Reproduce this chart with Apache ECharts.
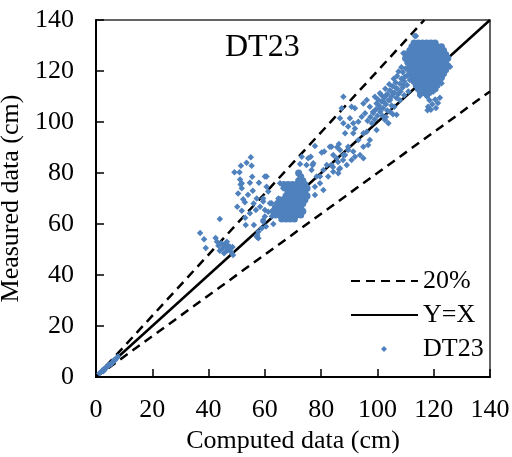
<!DOCTYPE html>
<html>
<head>
<meta charset="utf-8">
<script src="https://cdn.jsdelivr.net/npm/echarts@6/dist/echarts.min.js"></script>
<style>html,body{margin:0;padding:0;background:#fff}#c{width:512px;height:457px}</style>
</head>
<body>
<div id="c"></div>
<script>
// Axis ticks
const axisMin = 0, axisMax = 140, axisStep = 20;

// Reference lines (endpoints)
const lineYeqX = [[0, 0], [140, 140]];
const lineUpper20 = [[0, 0], [116.67, 140]];
const lineLower20 = [[0, 0], [140, 112]];

// DT23 measured vs computed points
const originPts = [[1.2,1.5],[1.8,2],[2.3,2.6],[2.8,3],[3.2,3.3],[3.7,3.9],[4.2,4.3],[4.7,4.6],[5.2,5.1],[5.7,5.6],[6.2,6.2],[6.8,6.7],[7.3,7.4],[7.8,8],[2.6,2.3],[3.5,3.6],[4.5,4.8],[5.5,5.2],[6.5,6.8],[3,2.7]];

const lowPts = [[37,56.5],[38.4,54],[39,50.6],[44,62],[43,53],[43.5,51.5],[44.5,52.5],[45,50.5],[45.5,52],[46,51],[46.5,49.5],[47,51.5],[47.5,50.5],[48,49],[48.5,51],[44,49.5],[45.5,48.5],[48.7,47.8],[42.5,54.5],[46.5,53],[47.6,51.1]];

const midScatter = [[55,86.2],[53.5,84],[55.3,82.8],[51.5,82.8],[49.2,80.3],[51,80.3],[51.2,77.5],[51.8,76],[54.7,76.2],[57.9,76.2],[51.8,74],[55.7,73],[61.2,72.7],[52.3,69.7],[52.9,68.5],[57.1,70],[59.4,68.8],[50.2,66.8],[51.8,65.2],[54.7,64.2],[56.8,65.5],[58.3,66.8],[60,65.5],[53.2,59.6],[56.1,59.6],[57.3,55.7],[57.7,54.4],[59.4,61.6],[60.4,59],[60.6,78.6],[65.4,76],[66.5,74],[64.8,70],[62.4,68.1],[60,78.6],[60.6,74.6],[59.4,70],[61.8,68.1],[61.2,64.8],[60,62.9],[59.4,60.9],[58.9,58.3],[57.1,55],[57.7,57],[54,71.5],[56,68],[53,62.5],[62.5,63],[63,60],[55.5,78.5],[50.5,72],[51.4,75.5]];

const midBlob = [[72,80],[72.75,78.5],[72,77],[73.5,77],
[66.75,75.5],[68.25,75.5],[69.75,75.5],[71.25,75.5],[72.75,75.5],[74.25,75.5],
[67.5,74],[69,74],[70.5,74],[72,74],[73.5,74],[75,74],
[68.25,72.5],[69.75,72.5],[71.25,72.5],[72.75,72.5],[74.25,72.5],
[67.5,71],[69,71],[70.5,71],[72,71],[73.5,71],[75,71],
[65.25,69.5],[66.75,69.5],[68.25,69.5],[69.75,69.5],[71.25,69.5],[72.75,69.5],[74.25,69.5],
[64.5,68],[66,68],[67.5,68],[69,68],[70.5,68],[72,68],[73.5,68],
[63.75,66.5],[65.25,66.5],[66.75,66.5],[68.25,66.5],[69.75,66.5],[71.25,66.5],[72.75,66.5],
[63,65],[64.5,65],[66,65],[67.5,65],[69,65],[70.5,65],[72,65],[73.5,65],
[63.75,63.5],[65.25,63.5],[66.75,63.5],[68.25,63.5],[69.75,63.5],[71.25,63.5],[72.75,63.5],
[66,62],[67.5,62],[69,62],[70.5,62]];

const upperScatter = [[77.8,90.6],[85.7,90.1],[81.1,88.4],[73.1,86.4],[74.8,83.1],[77,83.1],[76.3,86.4],[82,83.1],[84.3,80.5],[86.4,81.5],[78.4,78.6],[72.2,79.9],[77.8,71.4],[83.1,90.3],[86.3,91.4],[80.2,88],[87.9,87.1],[89.6,89],[75.4,85.8],[77.2,83.8],[72.5,83.5],[76.6,81.2],[80.8,81.2],[83.7,83.1],[86.7,81.9],[86.1,79.9],[79.6,78.6],[82.5,78.6],[79.6,76],[77.8,74.6],[80.8,73.3],
[87.9,109.9],[87.3,105.4],[90.8,106],[92,105.4],[86.7,101.5],[90.2,101.5],[87.9,99.5],[91.4,99.5],[89.6,98.2],[92,97.5],[93.2,100.1],[88.5,95.6],[91.4,95.6],[95,95.6],[93.2,92.9],[97.3,92.9],[96.2,96.2],[95,90.3],[96.7,91],[89.6,90.3],[86.7,89],[88.5,87.1],[91.4,88.4],[85.5,85.8],[83.7,90.3],[84.3,87.1],[94.4,102.1],[95.6,103.4],[95,107.3],[96.2,108.6],[97.3,106],[98.5,104],[84.2,82.4],[86,84.3],[87.8,85.1],[89.1,83.1],[90.8,85.1],[92,86.4],[93.8,87.1],[95,85.8]];

const extPts = [[99.7,107.3],[100.9,105.4],[102.1,108],[103.3,110.6],[100.9,111.3],[99.1,109.9],[104.5,108.6],[105.6,111.3],[106.8,113.2],[109.2,114.5],[102.7,100.8],[103.9,99.5],[106.8,102.8],[99.7,96.9],
[110,121],[109,119.5],[110.5,118],[108.5,117],[107,118],[109.5,116],[108,115],[106.5,115.5],[105.5,114],[107,113],[109,113.5],[110.5,114.5],[104.5,112.5],[106,111.5],[103.5,111],[105,110],[107.5,111],[102.5,109.5],[104,108.5],[101.5,108],[103,107],[100.5,106.5],[102,105.5],[99.5,105],[101,104],[98.5,103.5],[100,102.5],[97.5,102],[99,101],[104.5,104],[106,106],[108,108.5],[109.5,110.5],[111,112],[103,102],[105.5,103],[98,99.5],[96.5,100.5],[111.5,116.5],[112,119.5],[113.7,133.7],[109.2,127],
[108.5,121.5],[107.5,119.8],[105.8,117],[104.2,114.8],[102.8,113],[101.5,110.5],[100.2,108.8],[108.2,112],[106.7,109.5],[105,106.5],[103.5,104.5],[101.8,102.5],[109.8,117.8],[111.2,120]];

const topBlob = [[113,131],[114.5,131],[116,131],[117.5,131],[119,131],[120.5,131],
[112.25,129.5],[113.75,129.5],[115.25,129.5],[116.75,129.5],[118.25,129.5],[119.75,129.5],[121.25,129.5],[122.75,129.5],
[111.5,128],[113,128],[114.5,128],[116,128],[117.5,128],[119,128],[120.5,128],[122,128],[123.5,128],
[110.75,126.5],[112.25,126.5],[113.75,126.5],[115.25,126.5],[116.75,126.5],[118.25,126.5],[119.75,126.5],[121.25,126.5],[122.75,126.5],[124.25,126.5],
[110,125],[111.5,125],[113,125],[114.5,125],[116,125],[117.5,125],[119,125],[120.5,125],[122,125],[123.5,125],[125,125],
[110.75,123.5],[112.25,123.5],[113.75,123.5],[115.25,123.5],[116.75,123.5],[118.25,123.5],[119.75,123.5],[121.25,123.5],[122.75,123.5],[124.25,123.5],
[111.5,122],[113,122],[114.5,122],[116,122],[117.5,122],[119,122],[120.5,122],[122,122],[123.5,122],[125,122],
[112.25,120.5],[113.75,120.5],[115.25,120.5],[116.75,120.5],[118.25,120.5],[119.75,120.5],[121.25,120.5],[122.75,120.5],[124.25,120.5],
[111.5,119],[113,119],[114.5,119],[116,119],[117.5,119],[119,119],[120.5,119],[122,119],[123.5,119],
[112.25,117.5],[113.75,117.5],[115.25,117.5],[116.75,117.5],[118.25,117.5],[119.75,117.5],[121.25,117.5],[122.75,117.5],
[113,116],[114.5,116],[116,116],[117.5,116],[119,116],[120.5,116],[122,116],
[113.75,114.5],[115.25,114.5],[116.75,114.5],[118.25,114.5],[119.75,114.5],[121.25,114.5],
[114.5,113],[116,113],[117.5,113],[119,113],[120.5,113],
[115.25,111.5],[116.75,111.5],[118.25,111.5]];

const topOutliers = [[113.3,133.7],[109.8,127],[125.8,121.7],[122.8,115.2],[115.1,110.3],[119.8,111.9]];

const belowPts = [[117.6,110],[118.5,108.5],[119.5,107],[120.5,108.8],[121.5,107.5],[118,106],[119,104.8],[120.8,105.5],[122.2,109.5],[117.8,104.6]];

const scatterPts = [].concat(originPts, lowPts, midScatter, upperScatter, extPts, topOutliers, belowPts);
const densePts = [].concat(midBlob, topBlob);

const FONT = "'Times New Roman', 'Liberation Serif', serif";
const BLUE = '#4F81BD';
const chart = echarts.init(document.getElementById('c'));

function axis(name, gap, labelMargin) {
  return {
    type: 'value', min: axisMin, max: axisMax, interval: axisStep,
    name: name, nameLocation: 'middle', nameGap: gap,
    nameTextStyle: { fontFamily: FONT, fontSize: 26, color: '#000' },
    axisLine: { show: true, onZero: false, lineStyle: { color: '#000', width: 2 } },
    axisTick: { show: true, inside: true, length: 8, lineStyle: { color: '#000', width: 1.5 } },
    axisLabel: { fontFamily: FONT, fontSize: 26, color: '#000', margin: labelMargin },
    splitLine: { show: false }
  };
}

chart.setOption({
  animation: false,
  backgroundColor: '#fff',
  title: {
    text: 'DT23', left: 220, top: 27,
    textStyle: { fontFamily: FONT, fontSize: 32, fontWeight: 'normal', color: '#000' }
  },
  grid: { left: 96, right: 22, top: 20, bottom: 80, show: true, borderColor: '#333', borderWidth: 1.5,
          containLabel: false, outerBoundsMode: 'none' },
  xAxis: axis('Computed data (cm)', 45, 20),
  yAxis: axis('Measured data (cm)', 52, 22),
  legend: [{
    orient: 'vertical', left: 345, top: 263,
    itemWidth: 67, itemHeight: 8, itemGap: 8,
    textStyle: { fontFamily: FONT, fontSize: 26, color: '#000' },
    data: ['20%', 'Y=X']
  }, {
    orient: 'vertical', left: 376, top: 331,
    itemWidth: 6, itemHeight: 6,
    textStyle: { fontFamily: FONT, fontSize: 26, color: '#000', padding: [0, 0, 0, 31] },
    data: ['DT23']
  }],
  series: [
    { name: '20%', type: 'line', data: lineUpper20, symbol: 'none', silent: true,
      lineStyle: { color: '#000', width: 2.5, type: [9, 6] }, itemStyle: { color: 'rgba(0,0,0,0)' } },
    { name: '20%', type: 'line', data: lineLower20, symbol: 'none', silent: true,
      lineStyle: { color: '#000', width: 2.5, type: [9, 6] }, itemStyle: { color: 'rgba(0,0,0,0)' } },
    { name: 'Y=X', type: 'line', data: lineYeqX, symbol: 'none', silent: true,
      lineStyle: { color: '#000', width: 2.5 }, itemStyle: { color: 'rgba(0,0,0,0)' } },
    { name: 'DT23', type: 'scatter', data: scatterPts, symbol: 'diamond', symbolSize: 6.5, z: 5,
      itemStyle: { color: BLUE, opacity: 1 } },
    { name: 'DT23', type: 'scatter', data: densePts, symbol: 'circle', symbolSize: 7, z: 5,
      itemStyle: { color: BLUE, opacity: 1 } }
  ]
});
</script>
</body>
</html>
